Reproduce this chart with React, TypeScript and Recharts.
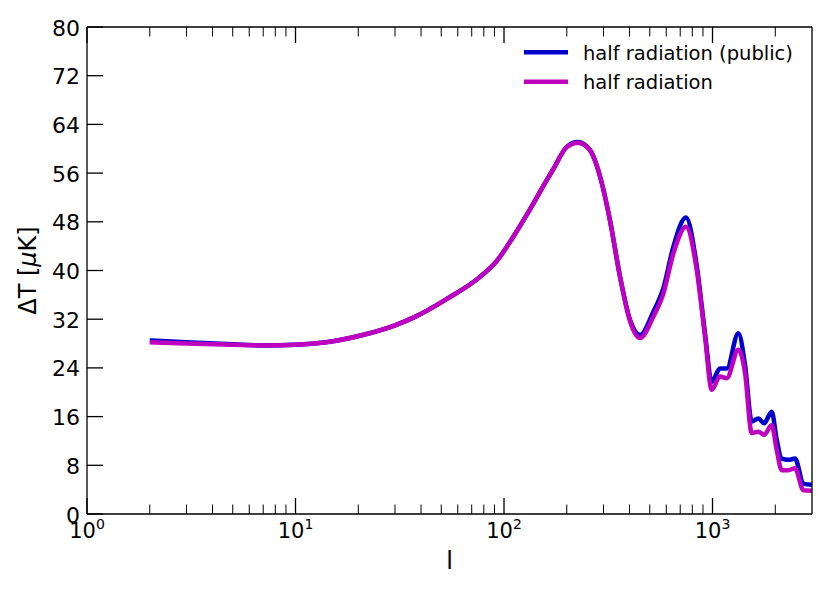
import { LineChart, Line, XAxis, YAxis, Legend, Label } from "recharts";

// multipole l and the two temperature spectra
const ells = [2, 3, 5, 7, 10, 14, 21, 30, 37, 53, 77, 92, 111, 133, 160, 172, 200, 226, 258, 289, 322, 360, 402, 449, 520, 581, 649, 746, 840, 921, 991, 1086, 1170, 1330, 1432, 1542, 1660, 1767, 1923, 2032, 2148, 2311, 2487, 2729, 3000];
const halfPublic = [28.5, 28.2, 27.9, 27.7, 27.8, 28.2, 29.4, 31.0, 32.3, 35.3, 39.0, 41.5, 45.6, 50.0, 54.8, 56.6, 60.3, 61.1, 59.8, 55.4, 48.3, 39.0, 31.9, 29.4, 33.2, 37.1, 43.9, 48.7, 40.8, 29.6, 21.7, 23.9, 23.9, 29.7, 24.5, 15.2, 15.7, 14.9, 16.8, 12.2, 9.1, 8.9, 9.1, 5.0, 4.8];
const halfRad = [28.2, 28.0, 27.8, 27.7, 27.8, 28.2, 29.4, 31.0, 32.3, 35.3, 39.0, 41.5, 45.6, 50.0, 54.8, 56.6, 60.3, 61.0, 59.8, 55.4, 48.3, 39.0, 31.7, 28.9, 32.4, 36.2, 42.8, 47.2, 40.1, 29.1, 20.4, 22.6, 22.3, 27.0, 23.2, 13.3, 13.5, 13.0, 14.6, 10.5, 7.2, 7.2, 7.5, 3.9, 3.8];

const majorX = [1, 10, 100, 1000];
const minorX = [2, 3, 4, 5, 6, 7, 8, 9, 20, 30, 40, 50, 60, 70, 80, 90, 200, 300, 400, 500, 600, 700, 800, 900, 2000];
const yTicks = [0, 8, 16, 24, 32, 40, 48, 56, 64, 72, 80];

const BLUE = "#0000cd";
const MAGENTA = "#bf00bf";
const FONT = "DejaVu Sans";

const rows = ells.map((l, i) => ({ l, pub: halfPublic[i], half: halfRad[i] }));
const xTicks = [...majorX, ...minorX].sort((a, b) => a - b);

const BottomTick = (props: any) => {
  const { x, y, payload } = props;
  const major = majorX.includes(payload.value);
  const len = major ? 16 : 9.5;
  return (
    <g>
      <line x1={x} x2={x} y1={y} y2={y - len} stroke="#000" strokeWidth={major ? 1.3 : 1} />
      {major && (
        <text x={x} y={y + 24} textAnchor="middle" fontSize={21} fontFamily={FONT} fill="#000">
          10
          <tspan dy={-9} fontSize={14}>{Math.round(Math.log10(payload.value))}</tspan>
        </text>
      )}
    </g>
  );
};

const TopTick = (props: any) => {
  const { x, y, payload } = props;
  const major = majorX.includes(payload.value);
  return <line x1={x} x2={x} y1={y} y2={y + (major ? 16 : 9.5)} stroke="#000" strokeWidth={major ? 1.3 : 1} />;
};

const LeftTick = (props: any) => {
  const { x, y, payload } = props;
  return (
    <g>
      <line x1={x} x2={x + 16} y1={y} y2={y} stroke="#000" strokeWidth={1.3} />
      <text x={x - 7} y={y + 8.5} textAnchor="end" fontSize={22} fontFamily={FONT} fill="#000">
        {payload.value}
      </text>
    </g>
  );
};

const RightTick = (props: any) => {
  const { x, y } = props;
  return <line x1={x} x2={x - 16} y1={y} y2={y} stroke="#000" strokeWidth={1.3} />;
};

const LegendBox = () => (
  <svg width={290} height={60} style={{ display: "block" }}>
    <line x1={4} x2={48} y1={12.3} y2={12.3} stroke={BLUE} strokeWidth={4.5} />
    <text x={63} y={20} fontSize={19.5} fontFamily={FONT} fill="#000">half radiation (public)</text>
    <line x1={4} x2={48} y1={41.7} y2={41.7} stroke={MAGENTA} strokeWidth={4.5} />
    <text x={63} y={49} fontSize={19.5} fontFamily={FONT} fill="#000">half radiation</text>
  </svg>
);

export default function App() {
  return (
    <div style={{ position: "absolute", left: 0, top: 0, background: "#fff" }}>
      <LineChart width={830} height={593} data={rows} margin={{ top: 26, right: 17, bottom: 0, left: 0 }}>
        <XAxis
          dataKey="l"
          type="number"
          scale="log"
          domain={[1, 3000]}
          allowDataOverflow
          ticks={xTicks}
          interval={0}
          tickSize={0}
          tickMargin={0}
          tickLine={false}
          tick={<BottomTick />}
          height={79}
          axisLine={{ stroke: "#000", strokeWidth: 1.3 }}
        >
          <Label
            content={(p: any) => {
              const vb = p.viewBox || { x: 87, y: 514, width: 725 };
              return (
                <text x={vb.x + vb.width / 2} y={vb.y + 55} textAnchor="middle" fontSize={24} fontFamily={FONT} fill="#000">
                  l
                </text>
              );
            }}
          />
        </XAxis>
        <XAxis
          xAxisId="top"
          orientation="top"
          dataKey="l"
          type="number"
          scale="log"
          domain={[1, 3000]}
          allowDataOverflow
          ticks={xTicks}
          interval={0}
          tickSize={0}
          tickMargin={0}
          tickLine={false}
          tick={<TopTick />}
          height={1}
          axisLine={{ stroke: "#000", strokeWidth: 1.3 }}
        />
        <YAxis
          domain={[0, 80]}
          ticks={yTicks}
          interval={0}
          tickSize={0}
          tickMargin={0}
          tickLine={false}
          tick={<LeftTick />}
          width={87}
          allowDataOverflow
          axisLine={{ stroke: "#000", strokeWidth: 1.3 }}
        >
          <Label
            content={(p: any) => {
              const vb = p.viewBox || { x: 0, y: 27, height: 487 };
              const cx = vb.x + 28;
              const cy = vb.y + vb.height / 2;
              return (
                <text x={cx} y={cy} transform={`rotate(-90, ${cx}, ${cy})`} textAnchor="middle" dominantBaseline="central" fontSize={24} fontFamily={FONT} fill="#000">
                  ΔT [<tspan fontStyle="italic">μ</tspan>K]
                </text>
              );
            }}
          />
        </YAxis>
        <YAxis
          yAxisId="right"
          orientation="right"
          domain={[0, 80]}
          ticks={yTicks}
          interval={0}
          tickSize={0}
          tickMargin={0}
          tickLine={false}
          tick={<RightTick />}
          width={1}
          axisLine={{ stroke: "#000", strokeWidth: 1.3 }}
        />
        <Legend
          layout="horizontal"
          verticalAlign="middle"
          content={<LegendBox />}
          wrapperStyle={{ position: "absolute", left: 520, top: 40, width: 290, height: 60 }}
        />
        <Line dataKey="pub" type="monotone" stroke={BLUE} strokeWidth={4.5} dot={false} isAnimationActive={false} />
        <Line dataKey="half" type="monotone" stroke={MAGENTA} strokeWidth={4.5} dot={false} isAnimationActive={false} />
      </LineChart>
    </div>
  );
}
